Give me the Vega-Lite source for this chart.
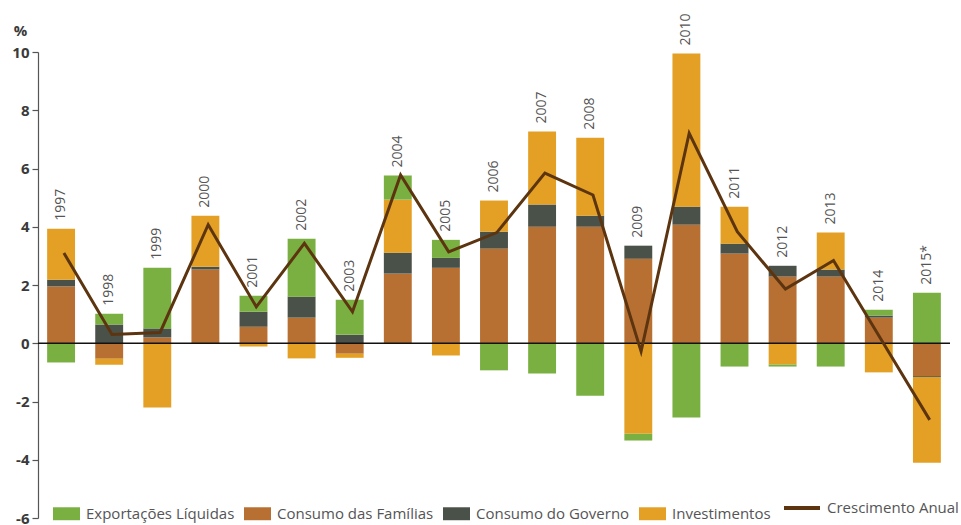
{
  "$schema": "https://vega.github.io/schema/vega-lite/v6.json",
  "width": 912,
  "height": 466,
  "autosize": {"type": "none"},
  "padding": {"left": 38, "top": 52, "right": 11, "bottom": 7},
  "background": "white",
  "config": {"view": {"stroke": null}, "font": "Open Sans"},
  "datasets": {
    "componentes": [
      {"componente": "Consumo das Famílias", "ordem": 1},
      {"componente": "Consumo do Governo", "ordem": 2},
      {"componente": "Investimentos", "ordem": 3},
      {"componente": "Exportações Líquidas", "ordem": 4}
    ],
    "barras": [
      {"ano": "1997", "componente": "Consumo das Famílias", "valor": 1.95},
      {"ano": "1997", "componente": "Consumo do Governo", "valor": 0.23},
      {"ano": "1997", "componente": "Investimentos", "valor": 1.75},
      {"ano": "1997", "componente": "Exportações Líquidas", "valor": -0.66},
      {"ano": "1998", "componente": "Consumo das Famílias", "valor": -0.53},
      {"ano": "1998", "componente": "Consumo do Governo", "valor": 0.64},
      {"ano": "1998", "componente": "Investimentos", "valor": -0.21},
      {"ano": "1998", "componente": "Exportações Líquidas", "valor": 0.37},
      {"ano": "1999", "componente": "Consumo das Famílias", "valor": 0.2},
      {"ano": "1999", "componente": "Consumo do Governo", "valor": 0.31},
      {"ano": "1999", "componente": "Investimentos", "valor": -2.21},
      {"ano": "1999", "componente": "Exportações Líquidas", "valor": 2.08},
      {"ano": "2000", "componente": "Consumo das Famílias", "valor": 2.53},
      {"ano": "2000", "componente": "Consumo do Governo", "valor": 0.1},
      {"ano": "2000", "componente": "Investimentos", "valor": 1.75},
      {"ano": "2000", "componente": "Exportações Líquidas", "valor": 0},
      {"ano": "2001", "componente": "Consumo das Famílias", "valor": 0.57},
      {"ano": "2001", "componente": "Consumo do Governo", "valor": 0.51},
      {"ano": "2001", "componente": "Investimentos", "valor": -0.11},
      {"ano": "2001", "componente": "Exportações Líquidas", "valor": 0.55},
      {"ano": "2002", "componente": "Consumo das Famílias", "valor": 0.88},
      {"ano": "2002", "componente": "Consumo do Governo", "valor": 0.72},
      {"ano": "2002", "componente": "Investimentos", "valor": -0.52},
      {"ano": "2002", "componente": "Exportações Líquidas", "valor": 1.99},
      {"ano": "2003", "componente": "Consumo das Famílias", "valor": -0.36},
      {"ano": "2003", "componente": "Consumo do Governo", "valor": 0.29},
      {"ano": "2003", "componente": "Investimentos", "valor": -0.14},
      {"ano": "2003", "componente": "Exportações Líquidas", "valor": 1.2},
      {"ano": "2004", "componente": "Consumo das Famílias", "valor": 2.39},
      {"ano": "2004", "componente": "Consumo do Governo", "valor": 0.72},
      {"ano": "2004", "componente": "Investimentos", "valor": 1.82},
      {"ano": "2004", "componente": "Exportações Líquidas", "valor": 0.83},
      {"ano": "2005", "componente": "Consumo das Famílias", "valor": 2.59},
      {"ano": "2005", "componente": "Consumo do Governo", "valor": 0.34},
      {"ano": "2005", "componente": "Investimentos", "valor": -0.42},
      {"ano": "2005", "componente": "Exportações Líquidas", "valor": 0.62},
      {"ano": "2006", "componente": "Consumo das Famílias", "valor": 3.25},
      {"ano": "2006", "componente": "Consumo do Governo", "valor": 0.58},
      {"ano": "2006", "componente": "Investimentos", "valor": 1.07},
      {"ano": "2006", "componente": "Exportações Líquidas", "valor": -0.93},
      {"ano": "2007", "componente": "Consumo das Famílias", "valor": 4.0},
      {"ano": "2007", "componente": "Consumo do Governo", "valor": 0.76},
      {"ano": "2007", "componente": "Investimentos", "valor": 2.51},
      {"ano": "2007", "componente": "Exportações Líquidas", "valor": -1.04},
      {"ano": "2008", "componente": "Consumo das Famílias", "valor": 4.0},
      {"ano": "2008", "componente": "Consumo do Governo", "valor": 0.38},
      {"ano": "2008", "componente": "Investimentos", "valor": 2.68},
      {"ano": "2008", "componente": "Exportações Líquidas", "valor": -1.8},
      {"ano": "2009", "componente": "Consumo das Famílias", "valor": 2.9},
      {"ano": "2009", "componente": "Consumo do Governo", "valor": 0.45},
      {"ano": "2009", "componente": "Investimentos", "valor": -3.11},
      {"ano": "2009", "componente": "Exportações Líquidas", "valor": -0.23},
      {"ano": "2010", "componente": "Consumo das Famílias", "valor": 4.07},
      {"ano": "2010", "componente": "Consumo do Governo", "valor": 0.62},
      {"ano": "2010", "componente": "Investimentos", "valor": 5.26},
      {"ano": "2010", "componente": "Exportações Líquidas", "valor": -2.55},
      {"ano": "2011", "componente": "Consumo das Famílias", "valor": 3.08},
      {"ano": "2011", "componente": "Consumo do Governo", "valor": 0.34},
      {"ano": "2011", "componente": "Investimentos", "valor": 1.27},
      {"ano": "2011", "componente": "Exportações Líquidas", "valor": -0.8},
      {"ano": "2012", "componente": "Consumo das Famílias", "valor": 2.29},
      {"ano": "2012", "componente": "Consumo do Governo", "valor": 0.37},
      {"ano": "2012", "componente": "Investimentos", "valor": -0.73},
      {"ano": "2012", "componente": "Exportações Líquidas", "valor": -0.07},
      {"ano": "2013", "componente": "Consumo das Famílias", "valor": 2.29},
      {"ano": "2013", "componente": "Consumo do Governo", "valor": 0.24},
      {"ano": "2013", "componente": "Investimentos", "valor": 1.27},
      {"ano": "2013", "componente": "Exportações Líquidas", "valor": -0.8},
      {"ano": "2014", "componente": "Consumo das Famílias", "valor": 0.88},
      {"ano": "2014", "componente": "Consumo do Governo", "valor": 0.07},
      {"ano": "2014", "componente": "Investimentos", "valor": -1.0},
      {"ano": "2014", "componente": "Exportações Líquidas", "valor": 0.2},
      {"ano": "2015*", "componente": "Consumo das Famílias", "valor": -1.13},
      {"ano": "2015*", "componente": "Consumo do Governo", "valor": -0.03},
      {"ano": "2015*", "componente": "Investimentos", "valor": -2.94},
      {"ano": "2015*", "componente": "Exportações Líquidas", "valor": 1.73}
    ],
    "crescimento": [
      {"ano": "1997", "valor": 3.1},
      {"ano": "1998", "valor": 0.3},
      {"ano": "1999", "valor": 0.37},
      {"ano": "2000", "valor": 4.07},
      {"ano": "2001", "valor": 1.25},
      {"ano": "2002", "valor": 3.43},
      {"ano": "2003", "valor": 1.08},
      {"ano": "2004", "valor": 5.78},
      {"ano": "2005", "valor": 3.14},
      {"ano": "2006", "valor": 3.8},
      {"ano": "2007", "valor": 5.84},
      {"ano": "2008", "valor": 5.09},
      {"ano": "2009", "valor": -0.28},
      {"ano": "2010", "valor": 7.21},
      {"ano": "2011", "valor": 3.83},
      {"ano": "2012", "valor": 1.86},
      {"ano": "2013", "valor": 2.84},
      {"ano": "2014", "valor": 0.1},
      {"ano": "2015*", "valor": -2.63}
    ]
  },
  "layer": [
    {
      "data": {"name": "barras"},
      "transform": [
        {"lookup": "componente", "from": {"data": {"name": "componentes"}, "key": "componente", "fields": ["ordem"]}}
      ],
      "mark": {"type": "bar"},
      "encoding": {
        "x": {"field": "ano", "type": "nominal", "sort": null, "axis": null,
              "scale": {"paddingInner": 0.42, "paddingOuter": 0.19}},
        "y": {"field": "valor", "type": "quantitative", "stack": "zero", "title": "%",
              "scale": {"domain": [-6, 10], "nice": false, "zero": false},
              "axis": {
                "values": [-6, -4, -2, 0, 2, 4, 6, 8, 10],
                "labelExpr": "replace(datum.label, '\u2212', '-')",
                "grid": false,
                "labelFont": "Open Sans", "labelFontSize": 15, "labelFontWeight": "bold", "labelColor": "#3a3a3a",
                "labelPadding": 3,
                "domainColor": "#555555", "domainWidth": 1.2,
                "tickColor": "#555555", "tickSize": 6, "tickWidth": 1.2,
                "title": "%", "titleAngle": 0, "titleX": -18, "titleY": -22,
                "titleAlign": "center", "titleBaseline": "middle",
                "titleFont": "Open Sans", "titleFontSize": 15, "titleFontWeight": "bold", "titleColor": "#3a3a3a"
              }},
        "color": {"field": "componente", "type": "nominal",
                  "scale": {"domain": ["Exportações Líquidas", "Consumo das Famílias", "Consumo do Governo", "Investimentos"],
                            "range": ["#7ab042", "#b77031", "#4a5148", "#e4a024"]},
                  "legend": {"orient": "none", "legendX": 15, "legendY": 448, "direction": "horizontal",
                             "title": null, "symbolType": "M-1,-0.48H1V0.48H-1Z", "symbolSize": 729,
                             "symbolStrokeWidth": 0, "symbolOpacity": 1,
                             "labelFont": "Open Sans", "labelFontSize": 15, "labelColor": "#555555",
                             "labelOffset": 6, "columnPadding": 9}},
        "order": {"field": "ordem", "type": "quantitative"}
      }
    },
    {
      "data": {"values": [{}]},
      "mark": {"type": "rule", "color": "#111111", "strokeWidth": 1.5},
      "encoding": {"y": {"datum": 0, "title": "%"}}
    },
    {
      "data": {"name": "barras"},
      "transform": [
        {"filter": "datum.valor > 0"},
        {"aggregate": [{"op": "sum", "field": "valor", "as": "topo"}], "groupby": ["ano"]}
      ],
      "mark": {"type": "text", "angle": 270, "align": "left", "baseline": "middle", "dx": 8,
               "font": "Open Sans", "fontSize": 14, "color": "#555555"},
      "encoding": {
        "x": {"field": "ano", "type": "nominal", "sort": null},
        "y": {"field": "topo", "type": "quantitative", "title": "%"},
        "text": {"field": "ano"}
      }
    },
    {
      "data": {"name": "crescimento"},
      "mark": {"type": "line", "strokeWidth": 3},
      "encoding": {
        "x": {"field": "ano", "type": "nominal", "sort": null, "bandPosition": 0.6},
        "y": {"field": "valor", "type": "quantitative", "title": "%"},
        "stroke": {"datum": "Crescimento Anual", "type": "nominal",
                   "scale": {"range": ["#5c3510"]},
                   "legend": {"orient": "none", "legendX": 744, "legendY": 436, "title": null,
                              "symbolType": "stroke", "symbolSize": 1296, "symbolStrokeWidth": 4,
                              "labelFont": "Open Sans", "labelFontSize": 15, "labelColor": "#555555",
                              "labelOffset": 5}}
      }
    }
  ]
}
